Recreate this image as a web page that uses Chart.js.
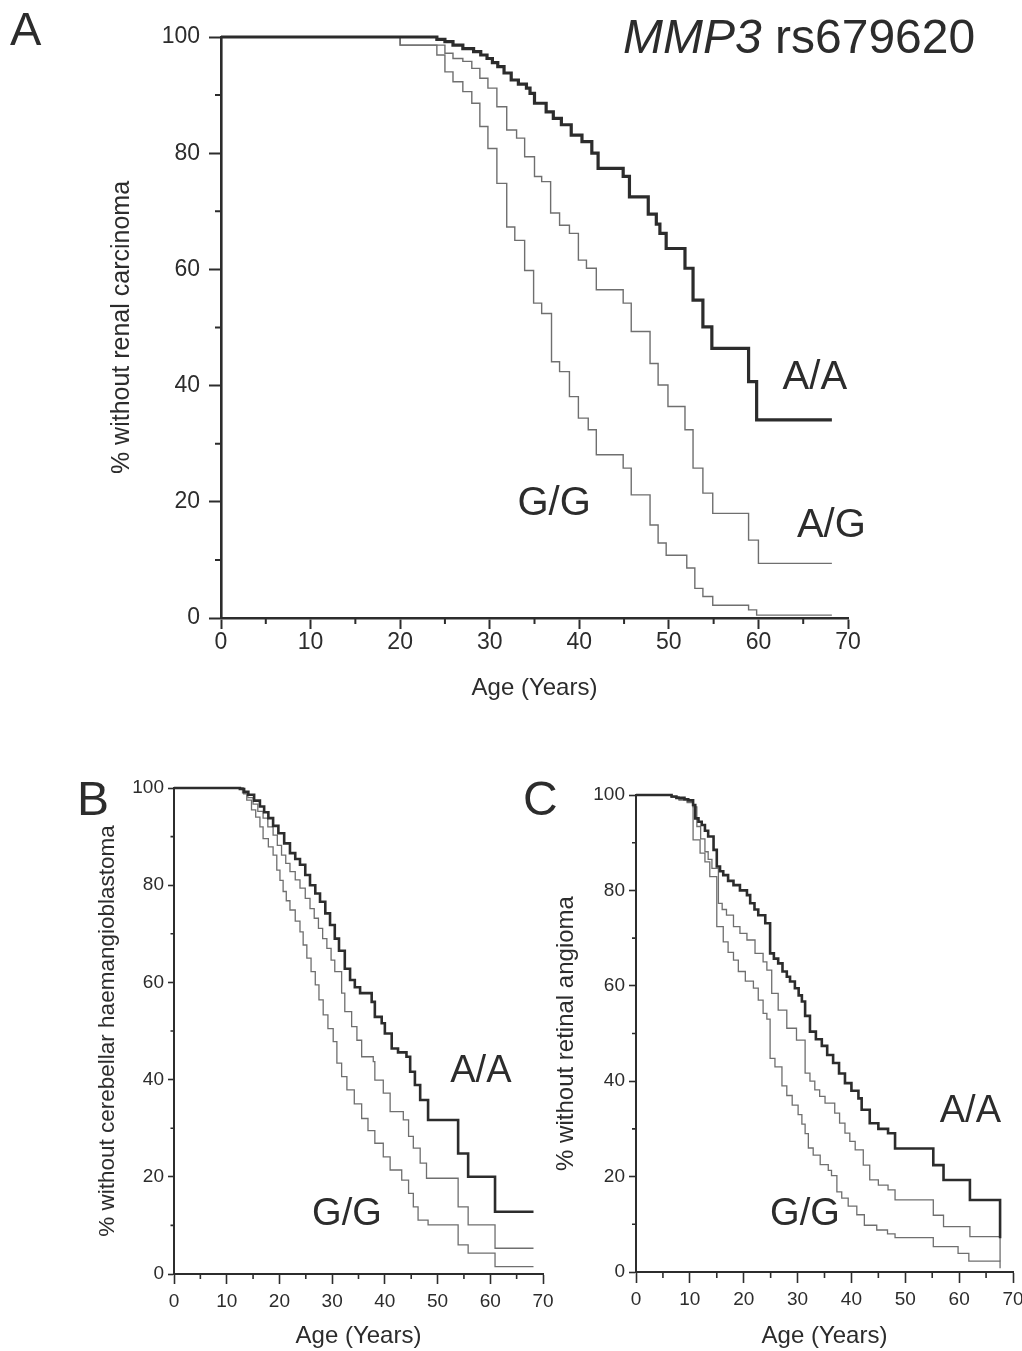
<!DOCTYPE html>
<html>
<head>
<meta charset="utf-8">
<script src="https://cdn.jsdelivr.net/npm/chart.js@4.4.1/dist/chart.umd.min.js"></script>
<style>
  body { margin: 0; background: #fff; width: 1022px; height: 1351px; position: relative; overflow: hidden; }
  canvas { position: absolute; }
</style>
</head>
<body>
<canvas id="panelA" width="1022" height="720" style="left:0;top:0"></canvas>
<canvas id="panelB" width="560" height="611" style="left:0;top:740px"></canvas>
<canvas id="panelC" width="520" height="611" style="left:520px;top:740px"></canvas>
<script>
// Kaplan-Meier curves for MMP3 rs679620 genotypes.
// Each curve is a list of event ages and the survival % reached at that age.

// ── Panel A: renal carcinoma ─────────────────────────────────────────────────
var ageA_AA  = [0, 24.1, 25.0, 25.9, 27.0, 28.2, 29.0, 29.7, 30.3, 30.9, 31.6, 32.4, 33.2, 34.1, 34.5, 35.0, 36.3, 37.1, 38.0, 39.1, 40.3, 41.4, 42.1, 44.9, 45.6, 47.7, 48.6, 49.0, 49.7, 51.8, 52.7, 53.8, 54.8, 58.9, 59.8, 68.2];
var survA_AA = [100, 99.6, 99.2, 98.6, 98.0, 97.5, 96.9, 96.3, 95.6, 94.9, 93.8, 92.6, 91.9, 91.2, 90.3, 88.6, 87.1, 86.0, 84.9, 83.1, 82.0, 80.0, 77.4, 76.0, 72.5, 69.5, 67.8, 66.2, 63.6, 60.2, 54.7, 50.1, 46.4, 40.7, 34.1, 34.1];
var ageA_AG  = [0, 20, 25.0, 25.9, 27.0, 28.0, 28.9, 29.8, 30.8, 31.9, 33.0, 33.9, 35.0, 35.8, 36.8, 37.8, 38.9, 39.9, 40.8, 41.9, 44.9, 45.8, 47.9, 48.8, 49.9, 51.8, 52.7, 53.8, 54.9, 58.9, 60.0, 68.2];
var survA_AG = [100, 98.6, 97.2, 96.3, 95.8, 94.6, 92.9, 91.2, 88.0, 84.0, 82.6, 79.4, 76.0, 75.1, 69.7, 67.6, 66.2, 61.6, 60.2, 56.5, 54.2, 49.3, 43.8, 40.1, 36.4, 32.4, 25.8, 21.5, 18.0, 13.4, 9.4, 9.4];
var ageA_GG  = [0, 20, 24.1, 25.0, 25.9, 27.0, 28.0, 28.9, 29.8, 30.8, 31.9, 32.8, 33.9, 34.9, 35.8, 36.9, 37.8, 38.9, 39.9, 41.0, 41.9, 44.9, 45.8, 47.9, 48.8, 49.7, 52.0, 52.9, 53.8, 54.9, 58.9, 59.8, 68.2];
var survA_GG = [100, 98.6, 96.9, 94.0, 92.3, 90.6, 88.6, 84.6, 80.8, 74.8, 67.3, 65.0, 59.8, 54.2, 52.4, 44.1, 42.4, 38.1, 34.4, 32.4, 28.1, 25.8, 21.2, 16.0, 12.9, 10.8, 8.6, 5.1, 3.7, 2.2, 1.4, 0.5, 0.5];

// ── Panel B: cerebellar haemangioblastoma ────────────────────────────────────
var ageB_AA  = [0, 12.5, 13.3, 14.1, 15.2, 16.3, 17.1, 17.9, 18.8, 19.8, 20.9, 22.0, 23.0, 23.9, 24.9, 25.8, 26.8, 27.7, 28.7, 29.6, 30.5, 31.3, 32.4, 33.4, 34.3, 35.3, 37.5, 38.1, 39.4, 40.0, 41.3, 42.5, 44.1, 44.8, 45.7, 46.7, 48.2, 53.9, 55.8, 60.9, 68.2];
var survB_AA = [100, 99.8, 99.2, 98.6, 97.4, 96.2, 95.0, 93.8, 92.2, 90.7, 88.6, 86.6, 85.4, 84.2, 82.1, 80.0, 78.3, 76.6, 74.2, 71.8, 69.0, 66.5, 62.8, 60.5, 59.0, 57.8, 56.0, 52.9, 51.6, 49.5, 46.4, 45.6, 44.7, 41.6, 38.9, 35.8, 31.7, 24.8, 20.0, 12.8, 12.8];
var ageB_AG  = [0, 13.0, 14.0, 15.0, 15.9, 16.9, 17.8, 18.8, 19.6, 20.4, 21.2, 22.0, 23.0, 23.9, 24.9, 25.8, 26.6, 27.4, 28.2, 29.0, 29.8, 30.5, 31.8, 32.4, 33.7, 34.7, 35.6, 37.8, 38.1, 39.7, 41.0, 43.5, 44.5, 45.4, 46.7, 47.9, 53.9, 55.8, 60.9, 68.2];
var survB_AG = [100, 99.0, 98.0, 96.7, 95.2, 93.8, 92.0, 90.3, 88.2, 86.2, 84.5, 82.8, 81.1, 79.4, 77.3, 75.2, 73.2, 71.1, 69.0, 67.0, 64.6, 62.2, 57.8, 54.0, 50.9, 48.1, 44.7, 43.7, 39.9, 37.2, 33.4, 31.7, 28.3, 25.9, 22.8, 19.7, 13.8, 10.1, 5.3, 5.3];
var ageB_GG  = [0, 13.2, 13.8, 14.7, 15.5, 16.3, 16.9, 17.9, 18.8, 19.5, 20.1, 20.7, 21.3, 22.0, 23.0, 23.9, 24.5, 25.2, 26.0, 26.8, 27.5, 28.3, 29.2, 30.2, 30.9, 31.8, 32.8, 34.2, 35.6, 36.8, 38.1, 39.7, 41.0, 43.2, 44.5, 45.4, 46.3, 48.2, 53.9, 55.8, 60.9, 68.2];
var survB_GG = [100, 98.8, 97.5, 95.5, 94.0, 92.0, 89.6, 87.9, 86.2, 83.1, 81.0, 78.7, 76.8, 74.9, 72.6, 70.4, 67.7, 65.0, 62.2, 59.5, 56.4, 53.3, 50.5, 47.8, 43.4, 40.6, 37.9, 35.0, 32.0, 29.5, 26.9, 24.1, 21.4, 19.3, 16.6, 13.8, 11.1, 10.1, 6.0, 4.3, 1.5, 1.5];

// ── Panel C: retinal angioma ─────────────────────────────────────────────────
var ageC_AA  = [0, 6.6, 7.5, 9.0, 9.7, 10.6, 11.0, 11.6, 12.2, 12.8, 13.4, 14.4, 15.0, 15.6, 16.2, 17.1, 18.1, 19.3, 20.6, 21.2, 22.0, 22.7, 24.0, 24.9, 25.6, 26.4, 27.2, 28.0, 28.6, 29.5, 30.2, 30.8, 31.4, 32.3, 33.4, 34.5, 35.5, 36.6, 37.7, 38.8, 40.0, 41.3, 41.9, 43.4, 45.0, 46.8, 48.1, 55.2, 57.1, 62.0, 67.6];
var survC_AA = [100, 99.7, 99.4, 99.1, 98.9, 97.9, 95.1, 94.4, 93.7, 92.5, 91.3, 88.5, 85.0, 84.0, 83.2, 82.0, 81.1, 80.0, 79.0, 77.3, 76.0, 74.8, 73.1, 66.8, 65.7, 64.7, 63.0, 61.9, 60.9, 59.5, 58.0, 56.7, 53.7, 50.4, 48.8, 47.4, 45.5, 43.8, 41.6, 39.6, 38.0, 36.4, 34.0, 31.2, 30.0, 29.1, 25.9, 22.4, 19.3, 15.1, 7.1];
var ageC_AG  = [0, 6.6, 8.0, 9.5, 10.6, 11.3, 12.0, 12.8, 13.4, 14.1, 15.3, 16.0, 16.8, 18.1, 19.3, 20.6, 22.1, 23.6, 24.3, 25.2, 26.4, 28.0, 29.8, 31.4, 32.3, 33.2, 34.1, 35.1, 36.9, 37.8, 38.8, 39.7, 40.7, 42.2, 43.4, 45.0, 46.8, 48.1, 55.2, 57.1, 62.0, 67.6];
var survC_AG = [100, 99.6, 99.0, 98.6, 97.5, 93.4, 90.8, 88.1, 86.5, 84.6, 77.3, 76.0, 74.8, 72.4, 71.0, 69.6, 66.8, 65.0, 63.3, 58.4, 54.9, 51.1, 48.6, 41.7, 40.0, 38.2, 36.8, 35.4, 33.3, 31.2, 29.1, 27.4, 25.6, 22.4, 19.3, 18.2, 17.2, 15.1, 11.9, 9.5, 7.4, 2.2];
var ageC_GG  = [0, 6.6, 8.0, 9.5, 10.6, 11.9, 12.8, 13.7, 15.0, 16.2, 17.1, 18.1, 19.0, 20.3, 21.8, 22.7, 23.6, 24.3, 24.9, 25.8, 27.1, 28.0, 29.0, 30.1, 30.8, 31.4, 32.0, 32.9, 34.2, 35.7, 36.3, 37.3, 38.2, 39.4, 41.0, 42.4, 44.7, 46.7, 48.1, 55.2, 59.8, 61.8, 67.6];
var survC_GG = [100, 99.5, 99.0, 98.4, 90.6, 87.8, 86.0, 82.9, 72.4, 69.2, 67.0, 65.4, 63.0, 61.0, 59.5, 57.0, 54.2, 53.0, 44.8, 43.0, 39.0, 37.0, 35.0, 33.0, 31.0, 29.0, 26.0, 24.5, 22.5, 21.3, 20.2, 16.8, 15.5, 13.8, 12.0, 9.8, 8.8, 8.0, 7.2, 5.3, 3.9, 2.3, 0.8];

// minor tick positions (major ticks come from the scales: 10 yrs, 20 %)
var X_MINOR = [5, 15, 25, 35, 45, 55, 65];
var Y_MINOR = [10, 30, 50, 70, 90];

var INK = '#2c2c2c';
var THIN = '#6f6f6f';
var FONT = "'Liberation Sans', Arial, sans-serif";
Chart.defaults.font.family = FONT;

function steps(ages, surv) {
  return ages.map(function(a, i) { return { x: a, y: surv[i] }; });
}

function kmDataset(label, ages, surv, color, width) {
  return {
    label: label, data: steps(ages, surv),
    borderColor: color, borderWidth: width,
    stepped: true, pointRadius: 0, fill: false, clip: false
  };
}

// Minor ticks, genotype labels and free text (panel letter, gene title).
var kmDecor = {
  id: 'kmDecor',
  afterDraw: function(chart, args, o) {
    var ctx = chart.ctx, xs = chart.scales.x, ys = chart.scales.y;
    ctx.save();
    ctx.strokeStyle = INK;
    ctx.lineWidth = o.minorWidth;
    ctx.beginPath();
    X_MINOR.forEach(function(v) {
      var px = xs.getPixelForValue(v);
      ctx.moveTo(px, ys.bottom); ctx.lineTo(px, ys.bottom + o.xMinorLen);
    });
    Y_MINOR.forEach(function(v) {
      var py = ys.getPixelForValue(v);
      ctx.moveTo(xs.left, py); ctx.lineTo(xs.left - o.yMinorLen, py);
    });
    ctx.stroke();

    ctx.fillStyle = INK;
    ctx.textAlign = 'left';
    ctx.textBaseline = 'alphabetic';
    (o.curveLabels || []).forEach(function(l) {
      ctx.font = l.size + 'px ' + FONT;
      ctx.fillText(l.text, xs.getPixelForValue(l.age), ys.getPixelForValue(l.val));
    });
    (o.texts || []).forEach(function(t) {
      var x = t.x;
      t.parts.forEach(function(p) {
        ctx.font = (p.italic ? 'italic ' : '') + t.size + 'px ' + FONT;
        ctx.fillText(p.text, x, t.y);
        x += ctx.measureText(p.text).width;
      });
    });
    ctx.restore();
  }
};

function makeKMChart(elId, c) {
  var el = document.getElementById(elId);
  return new Chart(el.getContext('2d'), {
    type: 'line',
    data: { datasets: c.datasets },
    options: {
      responsive: false, animation: false, devicePixelRatio: 1,
      layout: { padding: c.padding },
      plugins: { legend: { display: false }, tooltip: { enabled: false }, kmDecor: c.decor },
      scales: {
        x: {
          type: 'linear', min: 0, max: 70,
          afterFit: function(s) { s.height = c.xHeight; },
          ticks: { stepSize: 10, autoSkip: false, maxRotation: 0, color: INK, font: { size: c.tickSize }, padding: c.xTickPad },
          grid: { drawOnChartArea: false, tickLength: c.xTickLen, tickWidth: c.tickWidth, tickColor: INK },
          border: { color: INK, width: c.axisWidth },
          title: { display: true, text: 'Age (Years)', color: INK, font: { size: c.titleSize }, padding: { top: 0, bottom: c.xTitlePad } }
        },
        y: {
          min: 0, max: 100,
          afterFit: function(s) { s.width = c.yWidth; },
          ticks: { stepSize: 20, color: INK, font: { size: c.tickSize }, padding: c.yTickPad },
          grid: { drawOnChartArea: false, tickLength: c.yTickLen, tickWidth: c.tickWidth, tickColor: INK },
          border: { color: INK, width: c.axisWidth },
          title: { display: true, text: c.yTitle, color: INK, font: { size: c.yTitleSize || c.titleSize }, padding: { top: c.yTitlePad, bottom: 0 } }
        }
      }
    },
    plugins: [kmDecor]
  });
}

makeKMChart('panelA', {
  datasets: [
    kmDataset('A/A', ageA_AA, survA_AA, INK, 3.2),
    kmDataset('A/G', ageA_AG, survA_AG, THIN, 1.4),
    kmDataset('G/G', ageA_GG, survA_GG, THIN, 1.4)
  ],
  padding: { top: 37, right: 174, left: 0, bottom: 0 },
  yWidth: 221, xHeight: 102,
  tickSize: 23, titleSize: 24, yTitleSize: 25, axisWidth: 2.6, tickWidth: 2,
  xTickLen: 11, yTickLen: 12, xTickPad: 0, yTickPad: 9,
  xTitlePad: 17, yTitlePad: 107,
  yTitle: '% without renal carcinoma',
  decor: {
    minorWidth: 2, xMinorLen: 6, yMinorLen: 6,
    curveLabels: [
      { text: 'A/A', age: 62.7, val: 39.4, size: 40 },
      { text: 'A/G', age: 64.3, val: 13.9, size: 40 },
      { text: 'G/G', age: 33.1, val: 17.7, size: 40 }
    ],
    texts: [
      { x: 10, y: 45, size: 47, parts: [{ text: 'A' }] },
      { x: 623, y: 53, size: 48, parts: [{ text: 'MMP3', italic: true }, { text: ' rs679620' }] }
    ]
  }
});

makeKMChart('panelB', {
  datasets: [
    kmDataset('A/A', ageB_AA, survB_AA, INK, 2.6),
    kmDataset('A/G', ageB_AG, survB_AG, THIN, 1.3),
    kmDataset('G/G', ageB_GG, survB_GG, THIN, 1.3)
  ],
  padding: { top: 48, right: 17, left: 0, bottom: 0 },
  yWidth: 174, xHeight: 77,
  tickSize: 19, titleSize: 24, yTitleSize: 22.5, axisWidth: 2, tickWidth: 1.6,
  xTickLen: 10, yTickLen: 6, xTickPad: 6, yTickPad: 4,
  xTitlePad: 0, yTitlePad: 94,
  yTitle: '% without cerebellar haemangioblastoma',
  decor: {
    minorWidth: 1.6, xMinorLen: 5, yMinorLen: 3.5,
    curveLabels: [
      { text: 'A/A', age: 52.4, val: 39.5, size: 38 },
      { text: 'G/G', age: 26.2, val: 10.1, size: 38 }
    ],
    texts: [ { x: 77, y: 75, size: 48, parts: [{ text: 'B' }] } ]
  }
});

makeKMChart('panelC', {
  datasets: [
    kmDataset('A/A', ageC_AA, survC_AA, INK, 2.6),
    kmDataset('A/G', ageC_AG, survC_AG, THIN, 1.3),
    kmDataset('G/G', ageC_GG, survC_GG, THIN, 1.3)
  ],
  padding: { top: 55, right: 27, left: 0, bottom: 0 },
  yWidth: 116, xHeight: 79,
  tickSize: 19, titleSize: 24, axisWidth: 2, tickWidth: 1.6,
  xTickLen: 11, yTickLen: 7, xTickPad: 5, yTickPad: 4,
  xTitlePad: 0, yTitlePad: 32,
  yTitle: '% without retinal angioma',
  decor: {
    minorWidth: 1.6, xMinorLen: 6, yMinorLen: 4,
    curveLabels: [
      { text: 'A/A', age: 56.4, val: 31.4, size: 38 },
      { text: 'G/G', age: 24.9, val: 9.9, size: 38 }
    ],
    texts: [ { x: 3, y: 75, size: 48, parts: [{ text: 'C' }] } ]
  }
});
</script>
</body>
</html>
